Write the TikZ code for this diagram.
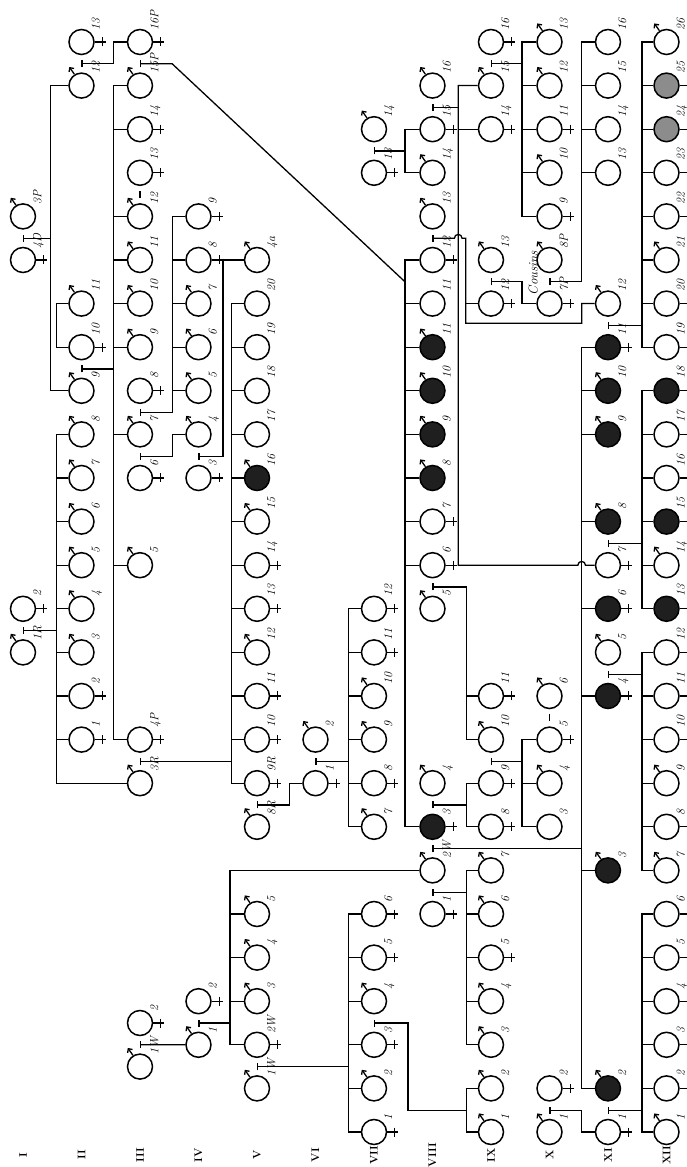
\documentclass[tikz,border=0pt]{standalone}
\usepackage{tikz}
\usetikzlibrary{arrows.meta,calc}

\tikzset{
  pers/.style={circle,draw,line width=1.5pt,minimum size=25pt,inner sep=0pt},
  aff/.style={pers,fill=black!88},
  part/.style={pers,fill=black!45},
  male/.style={append after command={\pgfextra{\let\pednode=\tikzlastnode}
      (\pednode.122) edge[-{Straight Barb[length=3pt,width=6pt]}] ++(125:9pt)}},
  fem/.style={append after command={\pgfextra{\let\pednode=\tikzlastnode}
      (\pednode.east) edge ++(11pt,0pt)
      ([shift={(7.5pt,4.5pt)}]\pednode.east) edge ++(0pt,-9pt)}},
  num/.style={font=\fontsize{12}{12}\selectfont\itshape,rotate=90,inner sep=1pt,anchor=north west},
  lb/.style={label={[num]50:#1}},
  note/.style={font=\fontsize{13}{13}\selectfont\itshape,rotate=90},
  tee/.style={{Bar[width=7pt]}-},
  gen/.style={font=\fontsize{11}{11}\selectfont\bfseries,rotate=90},
}

\begin{document}
\begin{tikzpicture}[x=58.5pt,y=-43.6pt,line width=1.3pt,label distance=0pt]
  \path[use as bounding box,fill=white] (0.607,-0.963) rectangle (12.350,25.803);

  % generation I
  \node[pers,male,lb=3P]  (g1p3P)  at (1,4)  {};
  \node[pers,fem,lb=4D]   (g1p4D)  at (1,5)  {};
  \node[pers,fem,lb=2]    (g1p2)   at (1,13) {};
  \node[pers,male,lb=1R]  (g1p1R)  at (1,14) {};

  % generation II
  \node[pers,fem,lb=13]   (g2p13)  at (2,0)  {};
  \node[pers,male,lb=12]  (g2p12)  at (2,1)  {};
  \node[pers,male,lb=11]  (g2p11)  at (2,6)  {};
  \node[pers,fem,lb=10]   (g2p10)  at (2,7)  {};
  \node[pers,male,lb=9]   (g2p9)   at (2,8)  {};
  \node[pers,male,lb=8]   (g2p8)   at (2,9)  {};
  \node[pers,male,lb=7]   (g2p7)   at (2,10) {};
  \node[pers,male,lb=6]   (g2p6)   at (2,11) {};
  \node[pers,male,lb=5]   (g2p5)   at (2,12) {};
  \node[pers,male,lb=4]   (g2p4)   at (2,13) {};
  \node[pers,male,lb=3]   (g2p3)   at (2,14) {};
  \node[pers,fem,lb=2]    (g2p2)   at (2,15) {};
  \node[pers,fem,lb=1]    (g2p1)   at (2,16) {};

  % generation III
  \node[pers,fem,lb=16P]  (g3p16P) at (3,0)  {};
  \node[pers,male,lb=15P] (g3p15P) at (3,1)  {};
  \node[pers,fem,lb=14]   (g3p14)  at (3,2)  {};
  \node[pers,fem,lb=13]   (g3p13)  at (3,3)  {};
  \node[pers,male,lb=12]  (g3p12)  at (3,4)  {};
  \node[pers,male,lb=11]  (g3p11)  at (3,5)  {};
  \node[pers,male,lb=10]  (g3p10)  at (3,6)  {};
  \node[pers,male,lb=9]   (g3p9)   at (3,7)  {};
  \node[pers,fem,lb=8]    (g3p8)   at (3,8)  {};
  \node[pers,male,lb=7]   (g3p7)   at (3,9)  {};
  \node[pers,fem,lb=6]    (g3p6)   at (3,10) {};
  \node[pers,male,lb=5]   (g3p5)   at (3,12) {};
  \node[pers,fem,lb=4P]   (g3p4P)  at (3,16) {};
  \node[pers,male,lb=3R]  (g3p3R)  at (3,17) {};
  \node[pers,fem,lb=2]    (g3p2)   at (3,22.5) {};
  \node[pers,male,lb=1W]  (g3p1W)  at (3,23.5) {};

  % generation IV
  \node[pers,fem,lb=9]    (g4p9)   at (4,4)  {};
  \node[pers,fem,lb=8]    (g4p8)   at (4,5)  {};
  \node[pers,male,lb=7]   (g4p7)   at (4,6)  {};
  \node[pers,male,lb=6]   (g4p6)   at (4,7)  {};
  \node[pers,male,lb=5]   (g4p5)   at (4,8)  {};
  \node[pers,male,lb=4]   (g4p4)   at (4,9)  {};
  \node[pers,fem,lb=3]    (g4p3)   at (4,10) {};
  \node[pers,fem,lb=2]    (g4p2)   at (4,22) {};
  \node[pers,male,lb=1]   (g4p1)   at (4,23) {};

  % generation V
  \node[pers,male,lb=4a]  (g5p4a)  at (5,5)  {};
  \node[pers,lb=20]       (g5p20)  at (5,6)  {};
  \node[pers,lb=19]       (g5p19)  at (5,7)  {};
  \node[pers,lb=18]       (g5p18)  at (5,8)  {};
  \node[pers,lb=17]       (g5p17)  at (5,9)  {};
  \node[aff,male,lb=16]   (g5p16)  at (5,10) {};
  \node[pers,male,lb=15]  (g5p15)  at (5,11) {};
  \node[pers,fem,lb=14]   (g5p14)  at (5,12) {};
  \node[pers,fem,lb=13]   (g5p13)  at (5,13) {};
  \node[pers,male,lb=12]  (g5p12)  at (5,14) {};
  \node[pers,fem,lb=11]   (g5p11)  at (5,15) {};
  \node[pers,fem,lb=10]   (g5p10)  at (5,16) {};
  \node[pers,fem,lb=9R]   (g5p9R)  at (5,17) {};
  \node[pers,male,lb=8R]  (g5p8R)  at (5,18) {};
  \node[pers,male,lb=5]   (g5p5)   at (5,20) {};
  \node[pers,male,lb=4]   (g5p4)   at (5,21) {};
  \node[pers,male,lb=3]   (g5p3)   at (5,22) {};
  \node[pers,fem,lb=2W]   (g5p2W)  at (5,23) {};
  \node[pers,male,lb=1W]  (g5p1W)  at (5,24) {};

  % generation VI
  \node[pers,male,lb=2]   (g6p2)   at (6,16) {};
  \node[pers,fem,lb=1]    (g6p1)   at (6,17) {};

  % generation VII
  \node[pers,male,lb=14]  (g7p14)  at (7,2)  {};
  \node[pers,fem,lb=13]   (g7p13)  at (7,3)  {};
  \node[pers,fem,lb=12]   (g7p12)  at (7,13) {};
  \node[pers,fem,lb=11]   (g7p11)  at (7,14) {};
  \node[pers,male,lb=10]  (g7p10)  at (7,15) {};
  \node[pers,male,lb=9]   (g7p9)   at (7,16) {};
  \node[pers,fem,lb=8]    (g7p8)   at (7,17) {};
  \node[pers,male,lb=7]   (g7p7)   at (7,18) {};
  \node[pers,fem,lb=6]    (g7p6)   at (7,20) {};
  \node[pers,fem,lb=5]    (g7p5)   at (7,21) {};
  \node[pers,male,lb=4]   (g7p4)   at (7,22) {};
  \node[pers,fem,lb=3]    (g7p3)   at (7,23) {};
  \node[pers,male,lb=2]   (g7p2)   at (7,24) {};
  \node[pers,fem,lb=1]    (g7p1)   at (7,25) {};

  % generation VIII
  \node[pers,male,lb=16]  (g8p16)  at (8,1)  {};
  \node[pers,fem,lb=15]   (g8p15)  at (8,2)  {};
  \node[pers,male,lb=14]  (g8p14)  at (8,3)  {};
  \node[pers,male,lb=13]  (g8p13)  at (8,4)  {};
  \node[pers,fem,lb=12]   (g8p12)  at (8,5)  {};
  \node[pers,lb=11]       (g8p11a) at (8,6)  {};
  \node[aff,male,lb=11]   (g8p11)  at (8,7)  {};
  \node[aff,male,lb=10]   (g8p10)  at (8,8)  {};
  \node[aff,male,lb=9]    (g8p9)   at (8,9)  {};
  \node[aff,male,lb=8]    (g8p8)   at (8,10) {};
  \node[pers,fem,lb=7]    (g8p7)   at (8,11) {};
  \node[pers,fem,lb=6]    (g8p6)   at (8,12) {};
  \node[pers,male,lb=5]   (g8p5)   at (8,13) {};
  \node[pers,male,lb=4]   (g8p4)   at (8,17) {};
  \node[aff,fem,lb=3]     (g8p3)   at (8,18) {};
  \node[pers,male,lb=2W]  (g8p2W)  at (8,19) {};
  \node[pers,fem,lb=1]    (g8p1)   at (8,20) {};

  % generation IX
  \node[pers,fem,lb=16]   (g9p16)  at (9,0)  {};
  \node[pers,male,lb=15]  (g9p15)  at (9,1)  {};
  \node[pers,fem,lb=14]   (g9p14)  at (9,2)  {};
  \node[pers,male,lb=13]  (g9p13)  at (9,5)  {};
  \node[pers,fem,lb=12]   (g9p12)  at (9,6)  {};
  \node[pers,fem,lb=11]   (g9p11)  at (9,15) {};
  \node[pers,male,lb=10]  (g9p10)  at (9,16) {};
  \node[pers,fem,lb=9]    (g9p9)   at (9,17) {};
  \node[pers,fem,lb=8]    (g9p8)   at (9,18) {};
  \node[pers,male,lb=7]   (g9p7)   at (9,19) {};
  \node[pers,male,lb=6]   (g9p6)   at (9,20) {};
  \node[pers,fem,lb=5]    (g9p5)   at (9,21) {};
  \node[pers,male,lb=4]   (g9p4)   at (9,22) {};
  \node[pers,male,lb=3]   (g9p3)   at (9,23) {};
  \node[pers,male,lb=2]   (g9p2)   at (9,24) {};
  \node[pers,male,lb=1]   (g9p1)   at (9,25) {};

  % generation X
  \node[pers,male,lb=13]  (g10p13) at (10,0)  {};
  \node[pers,male,lb=12]  (g10p12) at (10,1)  {};
  \node[pers,fem,lb=11]   (g10p11) at (10,2)  {};
  \node[pers,male,lb=10]  (g10p10) at (10,3)  {};
  \node[pers,fem,lb=9]    (g10p9)  at (10,4)  {};
  \node[pers,male,lb=8P]  (g10p8P) at (10,5)  {};
  \node[pers,fem,lb=7P]   (g10p7P) at (10,6)  {};
  \node[pers,male,lb=6]   (g10p6)  at (10,15) {};
  \node[pers,fem,lb=5]    (g10p5)  at (10,16) {};
  \node[pers,male,lb=4]   (g10p4)  at (10,17) {};
  \node[pers,lb=3]        (g10p3)  at (10,18) {};
  \node[pers,fem,lb=2]    (g10p2)  at (10,24) {};
  \node[pers,male,lb=1]   (g10p1)  at (10,25) {};
  \node[note] (cous) at (9.72,5.3) {Cousins};

  % generation XI
  \node[pers,lb=16]       (g11p16) at (11,0)  {};
  \node[pers,lb=15]       (g11p15) at (11,1)  {};
  \node[pers,lb=14]       (g11p14) at (11,2)  {};
  \node[pers,lb=13]       (g11p13) at (11,3)  {};
  \node[pers,male,lb=12]  (g11p12) at (11,6)  {};
  \node[aff,fem,lb=11]    (g11p11) at (11,7)  {};
  \node[aff,male,lb=10]   (g11p10) at (11,8)  {};
  \node[aff,male,lb=9]    (g11p9)  at (11,9)  {};
  \node[aff,male,lb=8]    (g11p8)  at (11,11) {};
  \node[pers,fem,lb=7]    (g11p7)  at (11,12) {};
  \node[aff,fem,lb=6]     (g11p6)  at (11,13) {};
  \node[pers,male,lb=5]   (g11p5)  at (11,14) {};
  \node[aff,fem,lb=4]     (g11p4)  at (11,15) {};
  \node[aff,male,lb=3]    (g11p3)  at (11,19) {};
  \node[aff,male,lb=2]    (g11p2)  at (11,24) {};
  \node[pers,fem,lb=1]    (g11p1)  at (11,25) {};

  % generation XII
  \node[pers,male,lb=26]  (g12p26) at (12,0)  {};
  \node[part,fem,lb=25]   (g12p25) at (12,1)  {};
  \node[part,fem,lb=24]   (g12p24) at (12,2)  {};
  \node[pers,fem,lb=23]   (g12p23) at (12,3)  {};
  \node[pers,fem,lb=22]   (g12p22) at (12,4)  {};
  \node[pers,male,lb=21]  (g12p21) at (12,5)  {};
  \node[pers,fem,lb=20]   (g12p20) at (12,6)  {};
  \node[pers,fem,lb=19]   (g12p19) at (12,7)  {};
  \node[aff,fem,lb=18]    (g12p18) at (12,8)  {};
  \node[pers,fem,lb=17]   (g12p17) at (12,9)  {};
  \node[pers,fem,lb=16]   (g12p16) at (12,10) {};
  \node[aff,fem,lb=15]    (g12p15) at (12,11) {};
  \node[pers,male,lb=14]  (g12p14) at (12,12) {};
  \node[aff,fem,lb=13]    (g12p13) at (12,13) {};
  \node[pers,fem,lb=12]   (g12p12) at (12,14) {};
  \node[pers,fem,lb=11]   (g12p11) at (12,15) {};
  \node[pers,fem,lb=10]   (g12p10) at (12,16) {};
  \node[pers,male,lb=9]   (g12p9)  at (12,17) {};
  \node[pers,fem,lb=8]    (g12p8)  at (12,18) {};
  \node[pers,male,lb=7]   (g12p7)  at (12,19) {};
  \node[pers,fem,lb=6]    (g12p6)  at (12,20) {};
  \node[pers,fem,lb=5]    (g12p5)  at (12,21) {};
  \node[pers,fem,lb=4]    (g12p4)  at (12,22) {};
  \node[pers,fem,lb=3]    (g12p3)  at (12,23) {};
  \node[pers,fem,lb=2]    (g12p2)  at (12,24) {};
  \node[pers,male,lb=1]   (g12p1)  at (12,25) {};

  % generation numbers
  \foreach \cc/\rn in {1/I,2/II,3/III,4/IV,5/V,6/VI,7/VII,8/VIII,9/IX,10/X,11/XI,12/XII}
    \node[gen] (r\cc) at (\cc,25.53) {\rn};

  % sibship lines
  \coordinate (x1)  at (1.47,0);
  \coordinate (x2)  at (1.57,0);
  \coordinate (x3)  at (2.55,0);
  \coordinate (x4)  at (3.55,0);
  \coordinate (x5a) at (4.42,0);
  \coordinate (x5)  at (4.57,0);
  \coordinate (x5b) at (4.54,0);
  \coordinate (x6)  at (5.56,0);
  \coordinate (x7)  at (6.57,0);
  \coordinate (x8)  at (7.53,0);
  \coordinate (x9a) at (8.44,0);
  \coordinate (x9)  at (8.58,0);
  \coordinate (x10) at (9.53,0);
  \coordinate (x11) at (10.55,0);
  \coordinate (x12) at (11.58,0);

  % I 3P x 4D
  \coordinate (t1) at ($(g1p3P)!.5!(g1p4D)$);
  \draw[tee] (t1) -- (t1 -| x1);
  \draw (g2p12) -| (x1 |- g2p9) -- (g2p9);
  \draw (g2p11) -| (x2 |- g2p10) -- (g2p10);
  % II 13 x 12
  \coordinate (t2) at ($(g2p13)!.5!(g2p12)$);
  \draw[tee] (t2) -| (x3 |- g3p16P) -- (g3p16P);
  % II 10 x 9
  \coordinate (t3) at ($(g2p10)!.5!(g2p9)$);
  \draw[tee] (t3) -- (t3 -| x3);
  \draw (g3p15P) -| (x3 |- g3p4P) -- (g3p4P);
  \foreach \n in {14,12,11,10,9,7,5} \draw (g3p\n -| x3) -- (g3p\n);
  \draw[shorten <=5pt,shorten >=5pt] (g3p13) -- (g3p12);
  % III 8 x 7, 7 x 6
  \coordinate (t4) at ($(g3p8)!.5!(g3p7)$);
  \draw[tee] (t4) -| (x4 |- g4p9) -- (g4p9);
  \foreach \n in {8,7,6,5} \draw (g4p\n -| x4) -- (g4p\n);
  \coordinate (t5) at ($(g3p7)!.5!(g3p6)$);
  \draw[tee] (t5) -| (x4 |- g4p4) -- (g4p4);
  % IV 4 x 3
  \coordinate (t6) at ($(g4p4)!.5!(g4p3)$);
  \draw[tee] (t6) -| (x5a |- g5p4a) -- (g5p4a);
  % I 2 x 1R
  \coordinate (t7) at ($(g1p2)!.5!(g1p1R)$);
  \draw[tee] (t7) -- (t7 -| x2);
  \draw (g2p8) -| (x2 |- g3p3R) -- (g3p3R);
  \foreach \n in {7,6,5,4,3,2,1} \draw (g2p\n -| x2) -- (g2p\n);
  % III 4P x 3R
  \coordinate (t8) at ($(g3p4P)!.5!(g3p3R)$);
  \draw[tee] (t8) -- (t8 -| x5);
  \draw (g5p20) -| (x5 |- g5p9R) -- (g5p9R);
  \foreach \n in {19,...,10} \draw (g5p\n -| x5) -- (g5p\n);
  % V 9R x 8R
  \coordinate (t9) at ($(g5p9R)!.5!(g5p8R)$);
  \draw[tee] (t9) -| (x6 |- g6p1) -- (g6p1);
  % VI 2 x 1
  \coordinate (t10) at ($(g6p2)!.5!(g6p1)$);
  \draw[tee] (t10) -- (t10 -| x7);
  \draw (g7p12) -| (x7 |- g7p7) -- (g7p7);
  \foreach \n in {11,10,9,8} \draw (g7p\n -| x7) -- (g7p\n);
  % III 2 x 1W
  \coordinate (t11) at ($(g3p2)!.5!(g3p1W)$);
  \draw[tee] (t11) -- (g4p1);
  % IV 2 x 1
  \coordinate (t12) at ($(g4p2)!.5!(g4p1)$);
  \draw[tee] (t12) -- (t12 -| x5b);
  \draw (g8p2W) -| (x5b |- g5p2W) -- (g5p2W);
  \foreach \n in {5,4,3} \draw (g5p\n -| x5b) -- (g5p\n);
  % V 2W x 1W
  \coordinate (t13) at ($(g5p2W)!.5!(g5p1W)$);
  \draw[tee] (t13) -- (t13 -| x7);
  \draw (g7p6) -| (x7 |- g7p1) -- (g7p1);
  \foreach \n in {5,4,3,2} \draw (g7p\n -| x7) -- (g7p\n);
  % VII 3
  \coordinate (t14) at ($(g7p4)!.5!(g7p3)$);
  \coordinate (c14) at (7.58,24.5);
  \draw[tee] (t14) -| (c14) -- (c14 -| x9);
  \draw (g9p2) -| (x9 |- g9p1) -- (g9p1);
  % VII 14 x 13
  \coordinate (t17) at ($(g7p14)!.5!(g7p13)$);
  \draw[tee] (t17) -- (t17 -| x8);
  \draw (g8p15) -| (x8 |- g8p14) -- (g8p14);
  % III 16P x 15P
  \coordinate (t18) at ($(g3p16P)!.5!(g3p15P)$);
  \coordinate (j18) at (7.53,5.5);
  \draw[tee] (t18) -- (t18 -| x4) -- (j18);
  \draw (g8p12) -| (x8 |- g8p3) -- (g8p3);
  \foreach \n in {11a,11,10,9,8,7,6} \draw (g8p\n -| x8) -- (g8p\n);
  % VIII 16 x 15
  \coordinate (t15) at ($(g8p16)!.5!(g8p15)$);
  \draw[tee] (t15) -- (t15 -| x9a);
  \draw (g9p15) -| (x9a |- g11p7) -- ($(g11p7 -| x11)+(-3.8pt,0)$)
    arc[start angle=180,end angle=0,radius=3.8pt] -- (g11p7);
  \draw (g9p14 -| x9a) -- (g9p14);
  % VIII 13 x 12
  \coordinate (t16) at ($(g8p13)!.5!(g8p12)$);
  \coordinate (c16) at (8.57,6.45);
  \draw[tee] (t16) -- ($(t16 -| x9a)+(-3.8pt,0)$)
    arc[start angle=180,end angle=0,radius=3.8pt] -| (c16) -| (x11 |- g11p12) -- (g11p12);
  \draw (g9p12 -| c16) -- (g9p12);
  % VIII 6 x 5, 4 x 3
  \coordinate (t19) at ($(g8p6)!.5!(g8p5)$);
  \draw[tee] (t19) -| (x9 |- g9p10) -- (g9p10);
  \draw (g9p11 -| x9) -- (g9p11);
  \coordinate (t20) at ($(g8p4)!.5!(g8p3)$);
  \draw[tee] (t20) -- (t20 -| x9);
  \draw (g9p9) -| (x9 |- g9p8) -- (g9p8);
  % IX 10 x 9
  \coordinate (t21) at ($(g9p10)!.5!(g9p9)$);
  \draw[tee] (t21) -- (t21 -| x10);
  \draw (g10p5) -| (x10 |- g10p3) -- (g10p3);
  \draw (g10p4 -| x10) -- (g10p4);
  \draw[shorten <=5pt,shorten >=5pt] (g10p6) -- (g10p5);
  % VIII 3 x 2W, 2W x 1
  \coordinate (t23) at ($(g8p3)!.5!(g8p2W)$);
  \draw[tee] (t23) -- (t23 -| x11);
  \draw (g11p11) -| (x11 |- g11p2) -- (g11p2);
  \foreach \n in {10,9,8,6,4,3} \draw (g11p\n -| x11) -- (g11p\n);
  \coordinate (t24) at ($(g8p2W)!.5!(g8p1)$);
  \draw[tee] (t24) -- (t24 -| x9);
  \draw (g9p7) -| (x9 |- g9p3) -- (g9p3);
  \foreach \n in {6,5,4} \draw (g9p\n -| x9) -- (g9p\n);
  % IX 16 x 15, 13 x 12
  \coordinate (t25) at ($(g9p16)!.5!(g9p15)$);
  \draw[tee] (t25) -- (t25 -| x10);
  \draw (g10p13) -| (x10 |- g10p9) -- (g10p9);
  \foreach \n in {12,11,10} \draw (g10p\n -| x10) -- (g10p\n);
  \coordinate (t26) at ($(g9p13)!.5!(g9p12)$);
  \draw[tee] (t26) -| (x10 |- g10p7P) -- (g10p7P);
  % X 8P x 7P, 2 x 1
  \coordinate (t27) at ($(g10p8P)!.5!(g10p7P)$);
  \draw[tee] (t27) -| (x11 |- g11p16) -- (g11p16);
  \foreach \n in {15,14,13} \draw (g11p\n -| x11) -- (g11p\n);
  \coordinate (t28) at ($(g10p2)!.5!(g10p1)$);
  \draw[tee] (t28) -| (x11 |- g11p1) -- (g11p1);
  % XI 12 x 11
  \coordinate (t29) at ($(g11p12)!.5!(g11p11)$);
  \draw[tee] (t29) -- (t29 -| x12);
  \draw (g12p26) -| (x12 |- g12p19) -- (g12p19);
  \foreach \n in {25,...,20} \draw (g12p\n -| x12) -- (g12p\n);
  % XI 8 x 7
  \coordinate (t30) at ($(g11p8)!.5!(g11p7)$);
  \draw[tee] (t30) -- (t30 -| x12);
  \draw (g12p18) -| (x12 |- g12p13) -- (g12p13);
  \foreach \n in {17,...,14} \draw (g12p\n -| x12) -- (g12p\n);
  % XI 5 x 4
  \coordinate (t31) at ($(g11p5)!.5!(g11p4)$);
  \draw[tee] (t31) -- (t31 -| x12);
  \draw (g12p12) -| (x12 |- g12p7) -- (g12p7);
  \foreach \n in {11,...,8} \draw (g12p\n -| x12) -- (g12p\n);
  % XI 2 x 1
  \coordinate (t32) at ($(g11p2)!.5!(g11p1)$);
  \draw[tee] (t32) -- (t32 -| x12);
  \draw (g12p6) -| (x12 |- g12p1) -- (g12p1);
  \foreach \n in {5,...,2} \draw (g12p\n -| x12) -- (g12p\n);
\end{tikzpicture}
\end{document}
